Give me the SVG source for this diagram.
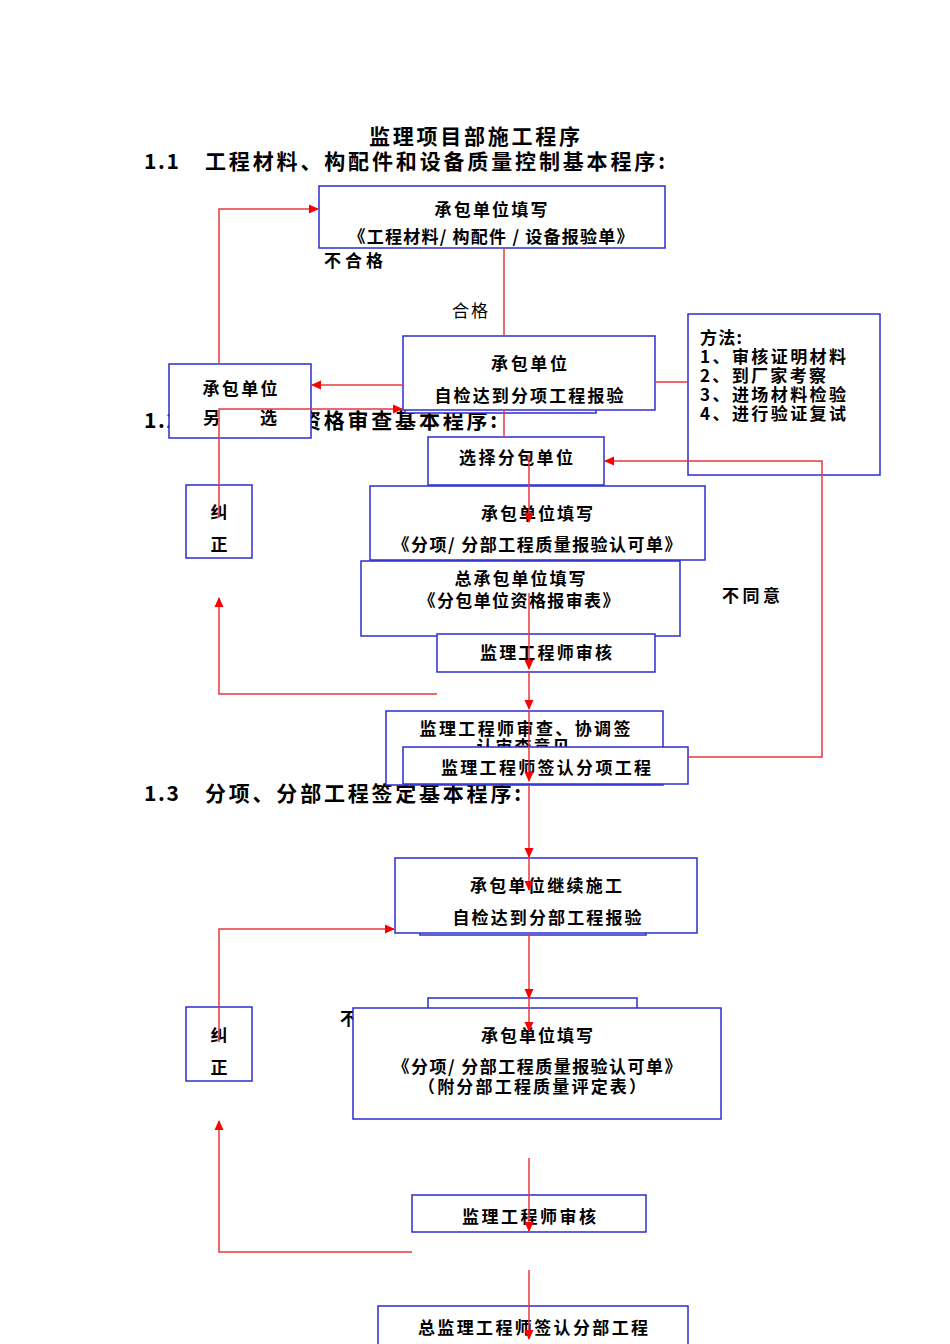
<svg xmlns="http://www.w3.org/2000/svg" width="950" height="1344" viewBox="0 0 950 1344">
<defs>
<style>
.t{font-family:"Noto Sans CJK SC","Noto Sans",sans-serif;fill:#000;}
.h{font-size:21px;font-weight:bold;}
.b{font-size:17px;font-weight:bold;}
.n{font-size:17px;font-weight:normal;}
.m{text-anchor:middle;}
.box{fill:#fff;stroke:#2d2dd0;stroke-width:1.5;}
.c{fill:none;stroke:#e8383f;stroke-width:1.5;}
.a{marker-end:url(#ah);}
</style>
<marker id="ah" markerWidth="10" markerHeight="10" refX="9" refY="5" orient="auto" markerUnits="userSpaceOnUse"><path d="M0,0.5 L10,5 L0,9.5 z" fill="#ff0000"/></marker>
</defs>
<rect width="950" height="1344" fill="#fff"/>

<g id="headers">
<text class="t h" x="369" y="144" textLength="211" lengthAdjust="spacing">监理项目部施工程序</text>
<text class="t h" x="144" y="169" textLength="35" lengthAdjust="spacing">1.1</text>
<text class="t h" x="205" y="169" textLength="460" lengthAdjust="spacing">工程材料、构配件和设备质量控制基本程序:</text>
<text class="t h" x="144" y="428" textLength="35" lengthAdjust="spacing">1.2</text>
<text class="t h" x="205" y="428" textLength="292" lengthAdjust="spacing">分包单位资格审查基本程序:</text>
<text class="t h" x="144" y="801" textLength="35" lengthAdjust="spacing">1.3</text>
<text class="t h" x="205" y="801" textLength="316" lengthAdjust="spacing">分项、分部工程签定基本程序:</text>
</g>

<g id="labels">
<text class="t b" x="324" y="267" textLength="59" lengthAdjust="spacing">不合格</text>
<text class="t n" x="452" y="317" textLength="36" lengthAdjust="spacing">合格</text>
<text class="t b" x="722" y="602" textLength="58" lengthAdjust="spacing">不同意</text>
<text class="t b" x="340" y="1025">不</text>
</g>

<g id="n-report1"><rect class="box" x="319" y="186" width="346" height="62"/>
<text class="t b m" x="491" y="216" textLength="113" lengthAdjust="spacing">承包单位填写</text>
<text class="t b m" x="491" y="243" textLength="285" lengthAdjust="spacing">《工程材料/ 构配件 / 设备报验单》</text></g>

<g id="n-selfcheck1-shadow"><rect class="box" x="405" y="342" width="191" height="71"/></g>
<g id="n-selfcheck1"><rect class="box" x="403" y="336" width="252" height="74"/>
<text class="t b m" x="529" y="370" textLength="76" lengthAdjust="spacing">承包单位</text>
<text class="t b m" x="529" y="402" textLength="189" lengthAdjust="spacing">自检达到分项工程报验</text></g>

<g id="n-method"><rect class="box" x="688" y="314" width="192" height="161"/>
<text class="t b" x="700" y="344" textLength="42" lengthAdjust="spacing">方法:</text>
<text class="t b" x="700" y="363" textLength="146" lengthAdjust="spacing">1、审核证明材料</text>
<text class="t b" x="700" y="382" textLength="126" lengthAdjust="spacing">2、到厂家考察</text>
<text class="t b" x="700" y="401" textLength="146" lengthAdjust="spacing">3、进场材料检验</text>
<text class="t b" x="700" y="420" textLength="146" lengthAdjust="spacing">4、进行验证复试</text></g>

<g id="n-reselect"><rect class="box" x="169" y="364" width="142" height="74"/>
<text class="t b m" x="240" y="395" textLength="75" lengthAdjust="spacing">承包单位</text>
<text class="t b" x="203" y="424">另</text>
<text class="t b" x="260" y="424">选</text></g>

<g id="n-select-sub"><rect class="box" x="428" y="437" width="176" height="48"/>
<text class="t b m" x="516" y="464" textLength="114" lengthAdjust="spacing">选择分包单位</text></g>

<g id="n-correct1"><rect class="box" x="186" y="485" width="66" height="73"/>
<text class="t b m" x="219" y="519">纠</text>
<text class="t b m" x="219" y="551">正</text></g>

<g id="n-fill-form1"><rect class="box" x="370" y="486" width="335" height="74"/>
<text class="t b m" x="537" y="520" textLength="112" lengthAdjust="spacing">承包单位填写</text>
<text class="t b m" x="537" y="551" textLength="289" lengthAdjust="spacing">《分项/ 分部工程质量报验认可单》</text></g>

<g id="n-general-fill"><rect class="box" x="361" y="561" width="319" height="75"/>
<text class="t b m" x="520" y="585" textLength="131" lengthAdjust="spacing">总承包单位填写</text>
<text class="t b m" x="519" y="607" textLength="201" lengthAdjust="spacing">《分包单位资格报审表》</text></g>

<g id="n-review1"><rect class="box" x="437" y="634" width="218" height="38"/>
<text class="t b m" x="546" y="659" textLength="132" lengthAdjust="spacing">监理工程师审核</text></g>

<g id="n-coord"><rect class="box" x="386" y="711" width="277" height="74"/>
<text class="t b m" x="525" y="735" textLength="211" lengthAdjust="spacing">监理工程师审查、协调签</text>
<text class="t b m" x="523" y="753" textLength="93" lengthAdjust="spacing">认审查意见</text></g>

<g id="n-sign-item"><rect class="box" x="403" y="747" width="285" height="37"/>
<text class="t b m" x="546" y="774" textLength="210" lengthAdjust="spacing">监理工程师签认分项工程</text></g>

<g id="n-continue-shadow"><rect class="box" x="420" y="900" width="226" height="35"/></g>
<g id="n-continue"><rect class="box" x="395" y="858" width="302" height="75"/>
<text class="t b m" x="546" y="892" textLength="152" lengthAdjust="spacing">承包单位继续施工</text>
<text class="t b m" x="547" y="924" textLength="189" lengthAdjust="spacing">自检达到分部工程报验</text></g>

<g id="n-fill-form2-shadow"><rect class="box" x="428" y="998" width="209" height="30"/></g>
<g id="n-fill-form2"><rect class="box" x="353" y="1008" width="368" height="111"/>
<text class="t b m" x="537" y="1042" textLength="112" lengthAdjust="spacing">承包单位填写</text>
<text class="t b m" x="537" y="1073" textLength="289" lengthAdjust="spacing">《分项/ 分部工程质量报验认可单》</text>
<text class="t b m" x="532" y="1093" textLength="228" lengthAdjust="spacing">（附分部工程质量评定表）</text></g>

<g id="n-correct2"><rect class="box" x="186" y="1007" width="66" height="74"/>
<text class="t b m" x="219" y="1042">纠</text>
<text class="t b m" x="219" y="1074">正</text></g>

<g id="n-review2"><rect class="box" x="412" y="1195" width="234" height="37"/>
<text class="t b m" x="529" y="1223" textLength="134" lengthAdjust="spacing">监理工程师审核</text></g>

<g id="n-chief-sign"><rect class="box" x="378" y="1306" width="310" height="44"/>
<text class="t b m" x="533" y="1334" textLength="230" lengthAdjust="spacing">总监理工程师签认分部工程</text></g>

<g id="connectors">
<path class="c" d="M504,248 V336"/>
<path class="c a" d="M219,364 V209 H318"/>
<path class="c a" d="M403,385 H312"/>
<path class="c" d="M655,382 H688"/>
<path class="c a" d="M219,518 V409 H402"/>
<path class="c" d="M504,410 V437"/>
<path class="c a" d="M529,455 V522"/>
<path class="c a" d="M529,593 V669"/>
<path class="c a" d="M529,672 V709"/>
<path class="c a" d="M529,711 V781"/>
<path class="c a" d="M529,785 V857"/>
<path class="c a" d="M529,858 V890"/>
<path class="c a" d="M688,757 H822 V461 H605"/>
<path class="c a" d="M437,694 H219 V598"/>
<path class="c a" d="M219,1042 V929 H394"/>
<path class="c a" d="M529,933 V998"/>
<path class="c a" d="M529,998 V1031"/>
<path class="c a" d="M412,1252 H219 V1121"/>
<path class="c a" d="M529,1158 V1231"/>
<path class="c a" d="M529,1270 V1339"/>
</g>
</svg>
